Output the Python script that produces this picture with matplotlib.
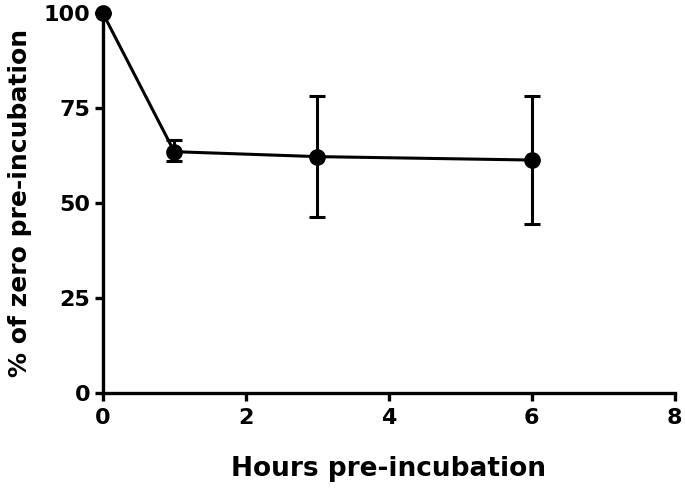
import matplotlib
matplotlib.use("Agg")
import matplotlib.pyplot as plt

# Datos
horas = [0, 1, 3, 6]
porcentaje = [100, 63.5, 62.2, 61.3]
err_bajo = [0, 2.5, 15.9, 16.7]
err_alto = [0, 3.1, 16.0, 16.9]

plt.rcParams["font.family"] = ["DejaVu Sans"]
plt.rcParams["font.weight"] = "bold"

fig = plt.figure(figsize=(6.85, 4.91), dpi=100)
ax = fig.add_axes([0.150, 0.1996, 0.835, 0.774])

ax.errorbar(
    horas,
    porcentaje,
    yerr=[err_bajo, err_alto],
    color="black",
    marker="o",
    markersize=11,
    linewidth=2.2,
    elinewidth=2.2,
    capsize=5.5,
    capthick=2.2,
    clip_on=False,
    zorder=3,
)

ax.set_xlim(0, 8)
ax.set_ylim(0, 100)
ax.set_xticks([0, 2, 4, 6, 8])
ax.set_yticks([0, 25, 50, 75, 100])

for lado in ["top", "right"]:
    ax.spines[lado].set_visible(False)
for lado in ["left", "bottom"]:
    ax.spines[lado].set_linewidth(2.4)

ax.tick_params(width=2.4, length=6, labelsize=16)
ax.tick_params(axis="x", pad=5)
ax.tick_params(axis="y", pad=3)
for lbl in ax.get_xticklabels() + ax.get_yticklabels():
    lbl.set_fontweight("bold")

ax.set_xlabel("Hours pre-incubation", fontsize=19, fontweight="bold", labelpad=20)
ax.set_ylabel("% of zero pre-incubation", fontsize=18, fontweight="bold", labelpad=8)

fig.savefig("out.png", dpi=100)
